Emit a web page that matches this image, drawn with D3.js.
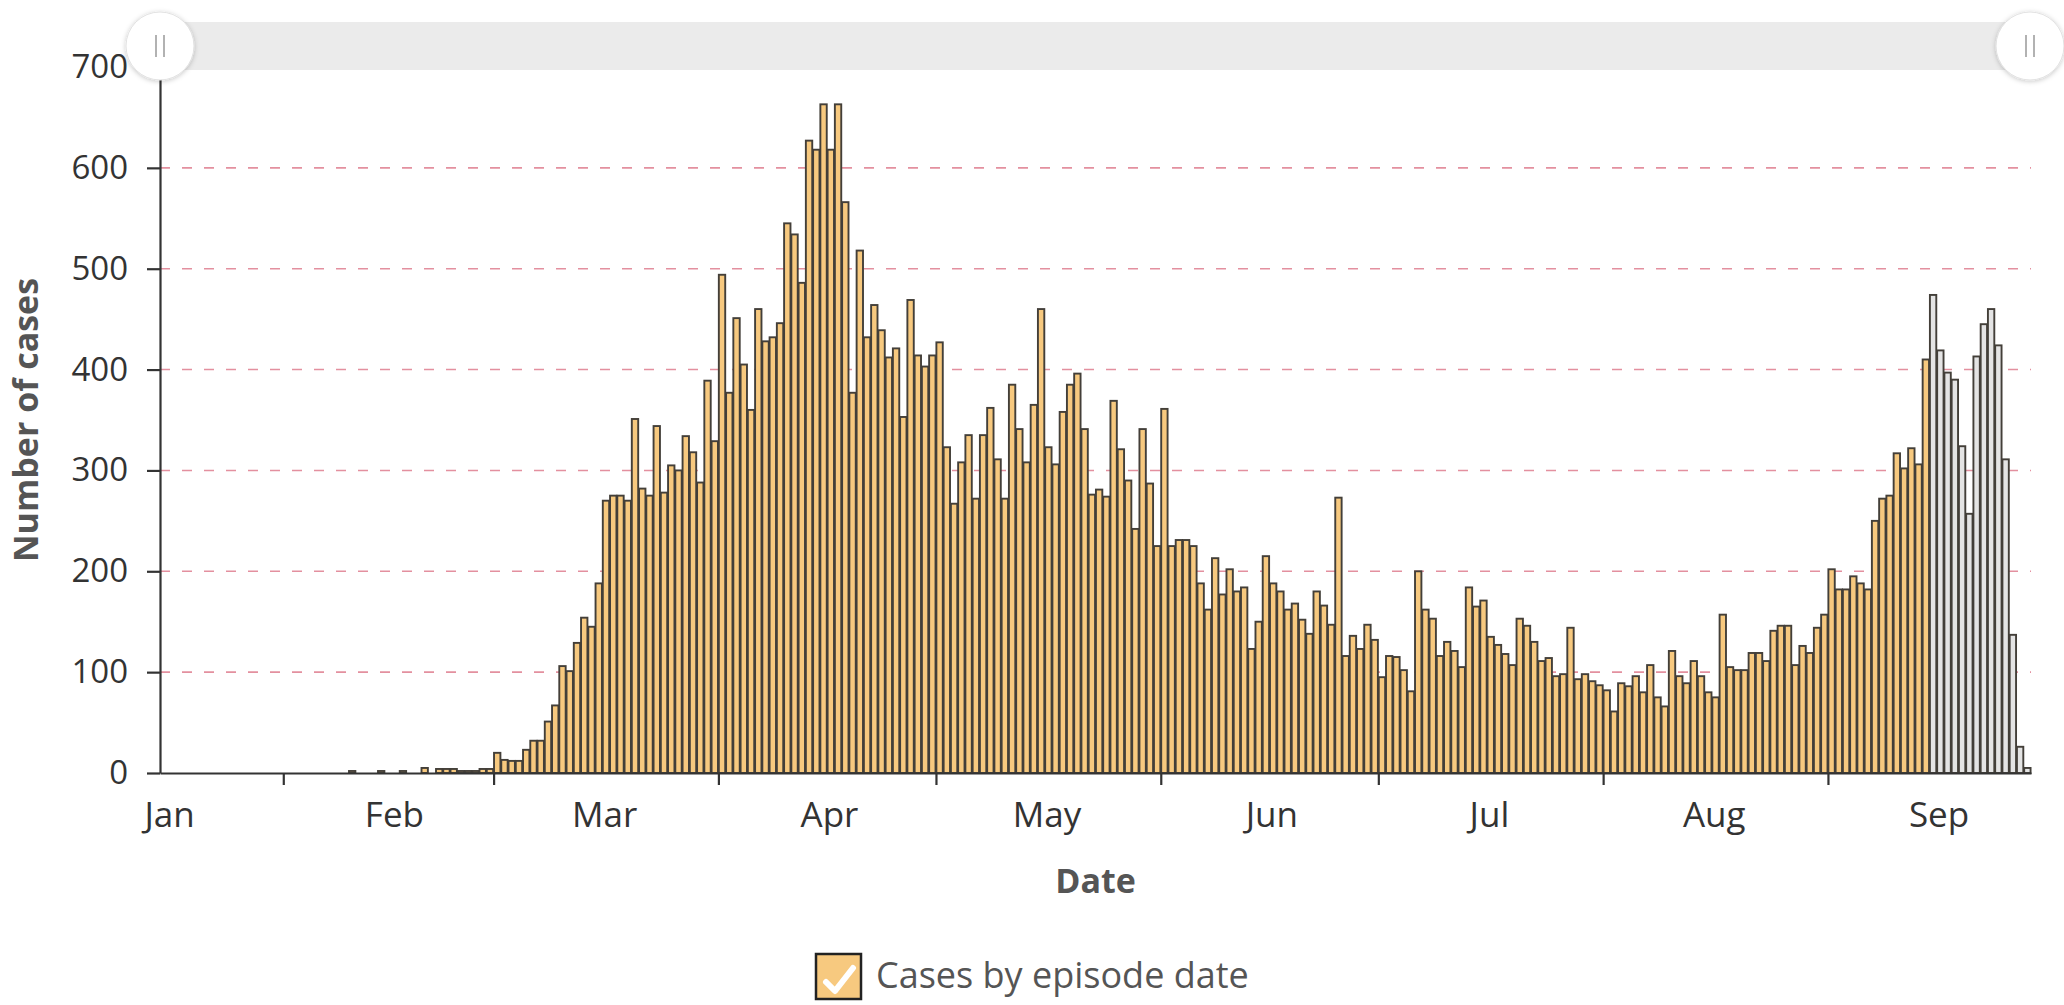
<!DOCTYPE html>
<html>
<head>
<meta charset="utf-8">
<script src="https://cdn.jsdelivr.net/npm/d3@7"></script>
<style>
  body { margin: 0; background: #fff; }
  text { font-family: "Open Sans", sans-serif; }
</style>
</head>
<body>
<script>
// daily case counts, first bar is 15 Jan 2020
var firstDay = "2020-01-15";
var janCases = [0, 0, 0, 0, 0, 0, 0, 0, 0, 0, 0, 0, 0, 0, 0, 0, 0];
var febCases = [0, 0, 0, 0, 0, 0, 0, 0, 0, 2, 0, 0, 0, 2, 0, 0, 2, 0, 0, 5,
  0, 4, 4, 4, 2, 2, 2, 4, 4];
var marCases = [20, 13, 12, 12, 23, 32, 32, 51, 67, 106, 101, 129, 154, 145, 188, 270,
  275, 275, 270, 351, 282, 275, 344, 278, 305, 300, 334, 318, 288, 389, 329];
var aprCases = [494, 377, 451, 405, 360, 460, 428, 432, 446, 545, 534, 486, 627, 618, 663,
  618, 663, 566, 377, 518, 432, 464, 439, 412, 421, 353, 469, 414, 403, 414];
var mayCases = [427, 323, 267, 308, 335, 272, 335, 362, 311, 272, 385, 341, 308, 365, 460, 323,
  306, 358, 385, 396, 341, 276, 281, 274, 369, 321, 290, 242, 341, 287, 225];
var junCases = [361, 225, 231, 231, 225, 188, 162, 213, 177, 202, 180, 184, 123, 150, 215,
  188, 180, 162, 168, 152, 138, 180, 166, 147, 273, 116, 136, 123, 147, 132];
var julCases = [95, 116, 115, 102, 81, 200, 162, 153, 116, 130, 121, 105, 184, 165, 171, 135,
  127, 118, 107, 153, 146, 130, 111, 114, 96, 98, 144, 93, 98, 91, 87];
var augCases = [82, 61, 89, 86, 96, 80, 107, 75, 66, 121, 96, 89, 111, 96, 80, 75,
  157, 105, 102, 102, 119, 119, 111, 141, 146, 146, 107, 126, 119, 144, 157];
var sepCases = [202, 182, 182, 195, 188, 182, 250, 272, 275, 317, 302, 322, 306, 410];
// last two weeks, still incomplete (grey)
var sepProvisional = [474, 419, 397, 390, 324, 257, 413, 445, 460, 424, 311, 137, 26, 5];

var monthLabels = ["Jan", "Feb", "Mar", "Apr", "May", "Jun", "Jul", "Aug", "Sep"];
var yTicks = [0, 100, 200, 300, 400, 500, 600, 700];

var width = 2064,
  height = 1005,
  plotLeft = 160, plotRight = 2031,
  plotTop = 67, plotBottom = 773;

var start = d3.utcParse("%Y-%m-%d")(firstDay);

var counts = janCases.concat(febCases, marCases, aprCases, mayCases, junCases, julCases, augCases, sepCases);
var data = counts.map(function(v, i) {
  return {date: d3.utcDay.offset(start, i), count: v, provisional: false};
});
sepProvisional.forEach(function(v, i) {
  data.push({date: d3.utcDay.offset(start, counts.length + i), count: v, provisional: true});
});
var end = d3.utcDay.offset(start, data.length);

var x = d3.scaleTime()
  .domain([start, end])
  .range([plotLeft, plotRight]);

var y = d3.scaleLinear()
  .domain([0, 700])
  .range([plotBottom, plotTop]);

var svg = d3.select("body").append("svg")
  .attr("width", width)
  .attr("height", height);

var defs = svg.append("defs");
defs.append("filter").attr("id", "shadow")
  .attr("x", "-30%").attr("y", "-30%").attr("width", "160%").attr("height", "160%")
  .append("feDropShadow")
  .attr("dx", 0).attr("dy", 1)
  .attr("stdDeviation", 2.5)
  .attr("flood-color", "#000")
  .attr("flood-opacity", 0.22);

// grid
svg.append("g").selectAll("line")
  .data(yTicks.filter(function(d) { return d > 0 && d < 700; }))
  .enter().append("line")
  .attr("x1", plotLeft).attr("x2", plotRight)
  .attr("y1", function(d) { return y(d); })
  .attr("y2", function(d) { return y(d); })
  .attr("stroke", "#e3909f")
  .attr("stroke-width", 1.6)
  .attr("stroke-dasharray", "10,12");

// bars
svg.append("g").selectAll("rect")
  .data(data)
  .enter().append("rect")
  .attr("x", function(d) {
    var w = x(d3.utcDay.offset(d.date, 1)) - x(d.date);
    return x(d.date) + w * 0.06;
  })
  .attr("width", function(d) {
    return (x(d3.utcDay.offset(d.date, 1)) - x(d.date)) * 0.88;
  })
  .attr("y", function(d) { return y(d.count); })
  .attr("height", function(d) { return plotBottom - y(d.count); })
  .attr("fill", function(d) { return d.provisional ? "#e4e4e4" : "#f7c97f"; })
  .attr("stroke", "#433f39")
  .attr("stroke-width", function(d) { return d.count > 0 ? 1.9 : 0; });

// x axis: ticks on month starts, labels mid-month
var xAxis = d3.axisBottom(x)
  .tickValues(d3.utcMonth.range(start, end))
  .tickSize(12)
  .tickSizeOuter(0)
  .tickFormat("");

var gx = svg.append("g")
  .attr("transform", "translate(0," + plotBottom + ")")
  .call(xAxis);
gx.selectAll("path, line").attr("stroke", "#333").attr("stroke-width", 2.2);

var labelDates = monthLabels.map(function(m, i) { return new Date(Date.UTC(2020, i, 16, 6)); });
var gxl = svg.append("g")
  .attr("transform", "translate(0," + plotBottom + ")")
  .call(d3.axisBottom(x)
    .tickValues(labelDates)
    .tickSize(0)
    .tickPadding(29)
    .tickFormat(function(d, i) { return monthLabels[i]; }));
gxl.select(".domain").remove();
gxl.selectAll("text")
  .attr("font-family", "Open Sans")
  .attr("font-size", 35)
  .attr("fill", "#333");

// y axis
var gy = svg.append("g")
  .attr("transform", "translate(" + plotLeft + ",0)")
  .call(d3.axisLeft(y).tickValues(yTicks).tickSize(13).tickSizeOuter(0).tickPadding(19));
gy.selectAll("path, line").attr("stroke", "#333").attr("stroke-width", 2.2);
gy.selectAll("text")
  .attr("font-family", "Open Sans")
  .attr("font-size", 33)
  .attr("fill", "#333");

// axis titles
svg.append("text")
  .attr("x", (plotLeft + plotRight) / 2)
  .attr("y", 893)
  .attr("text-anchor", "middle")
  .attr("font-size", 34)
  .attr("font-weight", "bold")
  .attr("fill", "#555")
  .text("Date");

svg.append("text")
  .attr("transform", "translate(38," + (plotTop + plotBottom) / 2 + ") rotate(-90)")
  .attr("text-anchor", "middle")
  .attr("font-size", 34)
  .attr("font-weight", "bold")
  .attr("fill", "#555")
  .text("Number of cases");

// zoom slider on top
var slider = svg.append("g");
slider.append("rect")
  .attr("x", plotLeft).attr("y", 22)
  .attr("width", plotRight - plotLeft).attr("height", 48)
  .attr("fill", "#ebebeb");

[plotLeft, plotRight - 1].forEach(function(cx) {
  var h = slider.append("g").attr("transform", "translate(" + cx + ",46)");
  h.append("circle")
    .attr("r", 34)
    .attr("fill", "#fff")
    .attr("stroke", "#e2e2e2")
    .attr("filter", "url(#shadow)");
  [-4, 4].forEach(function(dx) {
    h.append("line")
      .attr("x1", dx).attr("x2", dx)
      .attr("y1", -11).attr("y2", 11)
      .attr("stroke", "#aaa")
      .attr("stroke-width", 1.8);
  });
});

// legend
var legend = svg.append("g").attr("transform", "translate(816,954)");
legend.append("rect")
  .attr("width", 45).attr("height", 45)
  .attr("fill", "#f7c97f")
  .attr("stroke", "#222")
  .attr("stroke-width", 2.5);
legend.append("path")
  .attr("d", "M10,28 L19,37 L37,14")
  .attr("fill", "none")
  .attr("stroke", "#fff")
  .attr("stroke-width", 6)
  .attr("stroke-linecap", "round")
  .attr("stroke-linejoin", "round");
legend.append("text")
  .attr("x", 60)
  .attr("y", 34)
  .attr("font-size", 36)
  .attr("fill", "#555")
  .text("Cases by episode date");
</script>
</body>
</html>
